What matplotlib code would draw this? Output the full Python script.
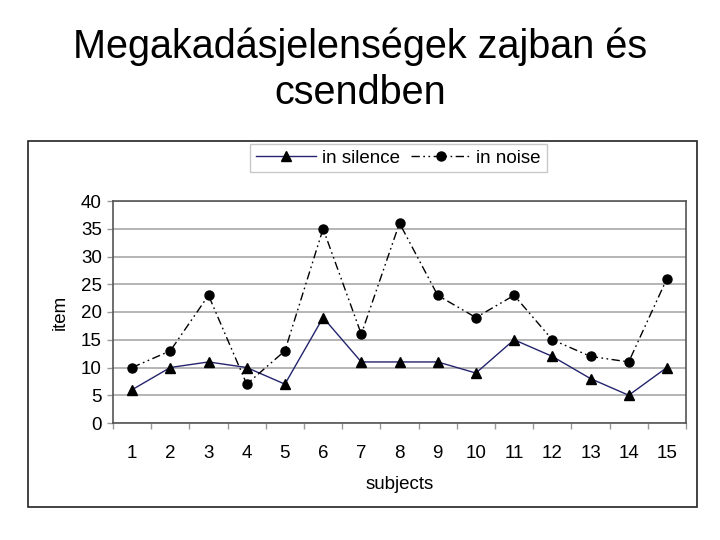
import matplotlib
matplotlib.use("Agg")
import matplotlib.pyplot as plt
from matplotlib.patches import Rectangle

plt.rcParams['font.family'] = ['Liberation Sans', 'DejaVu Sans']

title_lines = ["Megakadásjelenségek zajban és", "csendben"]
subjects = list(range(1, 16))
in_silence = [6, 10, 11, 10, 7, 19, 11, 11, 11, 9, 15, 12, 8, 5, 10]
in_noise = [10, 13, 23, 7, 13, 35, 16, 36, 23, 19, 23, 15, 12, 11, 26]
y_ticks = [0, 5, 10, 15, 20, 25, 30, 35, 40]

W, H = 720, 540
fig = plt.figure(figsize=(7.2, 5.4), dpi=100)

fig.text(0.5, 1 - 58 / H, title_lines[0], ha='center', va='baseline', fontsize=28.5)
fig.text(0.5, 1 - 104 / H, title_lines[1], ha='center', va='baseline', fontsize=28.5)

# outer chart frame
fig.patches.append(Rectangle((28 / W, 1 - 507 / H), (697 - 28) / W, (507 - 141) / H,
                             transform=fig.transFigure, fill=False, edgecolor='#222222',
                             linewidth=1.2))

ax = fig.add_axes([113 / W, 1 - 423 / H, (686 - 113) / W, (423 - 201) / H])
ax.set_xlim(0.5, 15.5)
ax.set_ylim(0, 40)
ax.set_yticks(y_ticks)
ax.yaxis.grid(True, color='#b4b4b4', linewidth=1.4)
ax.set_axisbelow(True)

l1, = ax.plot(subjects, in_silence, color='#24246e', linewidth=1.0, marker='^',
              markersize=7.5, markerfacecolor='black', markeredgecolor='black',
              label='in silence')
l2, = ax.plot(subjects, in_noise, color='black', linewidth=1.0,
              linestyle=(0, (6, 2.5, 1.2, 2.5, 1.2, 2.5)), marker='o', markersize=6.5,
              markerfacecolor='black', markeredgecolor='black', label='in noise')

ax.set_xticks(subjects)
ax.set_xticklabels([str(s) for s in subjects])
ax.set_xticks([s + 0.5 for s in [0] + subjects], minor=True)
ax.tick_params(axis='x', which='major', length=0, pad=16, labelsize=13.5)
ax.tick_params(axis='x', which='minor', length=4, color='#999999', width=1)
ax.tick_params(axis='y', which='major', length=4, color='#999999', width=1, pad=4,
               labelsize=13.5)

for s in ax.spines.values():
    s.set_color('#555555')
    s.set_linewidth(1.2)

ax.set_ylabel('item', fontsize=13.5, labelpad=9)
ax.set_xlabel('subjects', fontsize=13.5, labelpad=10)

leg = fig.legend(handles=[l1, l2], loc='center',
                 bbox_to_anchor=((254 + 543) / 2 / W, 1 - 158 / H), ncol=2,
                 fancybox=False, edgecolor='#c8c8c8', framealpha=1, fontsize=13.5,
                 handlelength=3.2, columnspacing=0.6, handletextpad=0.3,
                 borderpad=0.3, borderaxespad=0)
leg.get_frame().set_linewidth(1.0)

fig.savefig('out.png', dpi=100)
